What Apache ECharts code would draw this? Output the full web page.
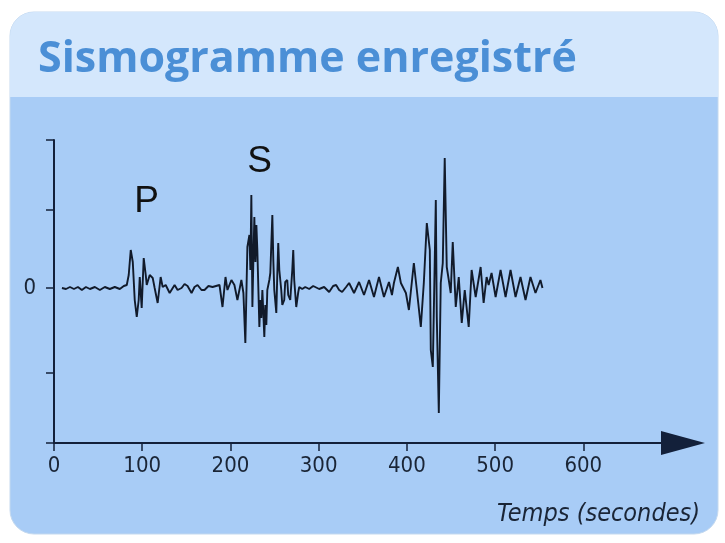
<!DOCTYPE html>
<html>
<head>
<meta charset="utf-8">
<script src="https://cdn.jsdelivr.net/npm/echarts@6/dist/echarts.min.js"></script>
<style>
html,body{margin:0;padding:0;background:#ffffff;}
#chart{width:725px;height:543px;}
</style>
</head>
<body>
<div id="chart"></div>
<script>
// ---- data ----
const titleText = 'Sismogramme enregistré';
const xAxisTitle = 'Temps (secondes)';
const xTickValues = [0, 100, 200, 300, 400, 500, 600];
const yTickValues = [-155, -85, 0, 78, 148];
const yLabelValues = [0];
const phaseLabels = ['P', 'S'];

// time (s)
const timeValues = [
  9.0, 13.6, 18.1, 22.6, 27.1, 31.6, 36.2, 40.7, 46.3, 52.0, 57.6, 63.3, 68.9, 74.6, 79.1, 82.5,
  84.7, 87.0, 89.3, 91.5, 93.8, 96.0, 97.2, 99.4, 101.7, 104.0, 105.1, 108.5, 111.9, 114.1, 117.5,
  120.9, 123.2, 126.6, 131.1, 136.7, 140.1, 144.6, 148.0, 151.4, 155.9, 159.3, 162.7, 167.2, 170.6,
  175.1, 179.7,
  181.9, 187.6, 191.0, 194.4, 196.6, 201.1, 204.5, 207.9, 212.4,
  214.7, 216.9, 219.2, 221.5, 222.6, 223.7, 224.9, 226.0, 227.1, 228.3, 229.4, 230.5,
  232.8, 233.9, 235.0, 236.2, 238.4, 239.5, 240.7, 241.8, 244.1, 245.2, 247.5, 248.6, 249.7,
  252.0, 253.1, 254.2, 255.4, 257.6, 258.8, 261.0, 262.1, 264.4, 265.5, 267.8, 270.1, 271.2,
  272.3, 274.6, 276.9, 278.0,
  281.4, 284.8, 289.3, 293.8, 300.6, 306.2, 311.9, 316.4, 319.8, 323.2, 326.6, 331.1, 334.5, 340.1,
  345.8, 351.4, 357.1, 362.7, 368.4, 374.0, 379.7, 383.1,
  385.3, 389.8, 393.2, 398.9, 402.3, 407.9, 411.3, 415.8, 419.2, 422.6, 426.0, 427.1, 429.4, 431.6,
  432.8, 433.9, 436.2, 438.4, 440.7, 442.9, 445.2, 447.5, 449.7, 452.0, 455.4, 458.8, 462.2, 465.6,
  470.1, 473.4, 478.0, 483.6, 487.0, 490.4, 492.7, 496.0, 500.6, 506.2, 511.9, 517.5, 523.2, 528.8,
  534.5, 540.1, 545.8, 551.4, 553.7
];
// ground motion amplitude (arbitrary units)
const amplitudeValues = [
  0, -1, 1, -1, 1, -2, 1, -1, 1, -2, 1, -1, 1, -1, 2, 3,
  13, 38, 26, -12, -29, -12, 11, -20, 30, 13, 3, 13, 10, 0, -15,
  11, 1, 3, -5, 3, -2, 0, 4, 2, -5, 1, 3, -2, -2,
  2, 1,
  0, 3, -19, 11, -2, 8, 3, -12, 8,
  -5, -55, 41, 53, 18, 93, -19, 28, 71, 26, 63, 38,
  -39, -12, -30, -2, -49, -17, -37, -2, 8, 15, 73, 28, -2,
  -25, 13, 45, 18, -2, -17, -12, 6, 8, -7, -12, 18, 38,
  8, -19, -4, 1,
  -1, 1, -1, 2, -1, 1, -4, 2, 3, -2, -4, 1, 5, -5,
  6, -7, 8, -9, 11, -9, 6, -7,
  5, 21, 5, -5, -22, 25, -2, -39, 5, 65, 38, -62, -79, 28,
  88, -29, -125, 5, 25, 130, 21, 8, -5, 46, -19, 11, -35, -2,
  -39, 18, -9, 21, -15, 11, 3, 15, -9, 18, -9, 18, -9, 11,
  -12, 11, -5, 8, 0
];

const seriesData = timeValues.map((t, i) => [t, amplitudeValues[i]]);

const axisColor = '#13203a';
const textColor = '#1a2536';
const tickFont = "'Liberation Sans Narrow', 'DejaVu Sans Condensed', 'Roboto', sans-serif";

const chart = echarts.init(document.getElementById('chart'), null, {renderer: 'canvas'});

const option = {
  backgroundColor: '#ffffff',
  animation: false,
  grid: {left: 54, right: 42, top: 140, bottom: 100, containLabel: false},
  xAxis: {
    type: 'value',
    min: 0,
    max: 713,
    axisLine: {
      show: true, onZero: false,
      lineStyle: {color: axisColor, width: 2},
      symbol: ['none', 'triangle'],
      symbolSize: [24, 44]
    },
    axisTick: {show: true, inside: false, length: 8, customValues: xTickValues, lineStyle: {color: axisColor, width: 1.5}},
    axisLabel: {show: true, customValues: xTickValues, margin: 12, color: textColor, fontSize: 22, fontFamily: tickFont},
    splitLine: {show: false}
  },
  yAxis: {
    type: 'value',
    min: -155,
    max: 148,
    axisLine: {show: true, onZero: false, lineStyle: {color: axisColor, width: 2}},
    axisTick: {show: true, inside: false, length: 8, customValues: yTickValues, lineStyle: {color: axisColor, width: 1.5}},
    axisLabel: {show: true, customValues: yLabelValues, margin: 18, color: textColor, fontSize: 22, fontFamily: tickFont},
    splitLine: {show: false}
  },
  graphic: [
    {type: 'rect', z: -100, shape: {x: 10, y: 12, width: 708, height: 522, r: 24},
     style: {fill: '#a8ccf6', stroke: '#c4d9ef', lineWidth: 1}},
    {type: 'rect', z: -99, shape: {x: 10, y: 12, width: 708, height: 85, r: [24, 24, 0, 0]},
     style: {fill: '#d4e7fc'}},
    {type: 'text', z: 10, left: 38, top: 38,
     style: {text: titleText, fill: '#4b8fd6', font: "bold 43px 'Open Sans', sans-serif"}},
    {type: 'text', z: 10, x: 700, y: 514,
     style: {text: xAxisTitle, fill: textColor, align: 'right', verticalAlign: 'middle',
             font: "italic 25px " + tickFont}},
    {type: 'text', z: 10, x: 146.5, y: 202,
     style: {text: phaseLabels[0], fill: '#111111', align: 'center', verticalAlign: 'middle',
             font: "37px 'Liberation Sans', Arial, sans-serif"}},
    {type: 'text', z: 10, x: 259.5, y: 162,
     style: {text: phaseLabels[1], fill: '#111111', align: 'center', verticalAlign: 'middle',
             font: "37px 'Liberation Sans', Arial, sans-serif"}}
  ],
  series: [{
    type: 'line',
    data: seriesData,
    showSymbol: false,
    symbol: 'none',
    smooth: false,
    lineStyle: {color: '#111a2a', width: 1.9},
    z: 5
  }]
};
chart.setOption(option);
</script>
</body>
</html>
